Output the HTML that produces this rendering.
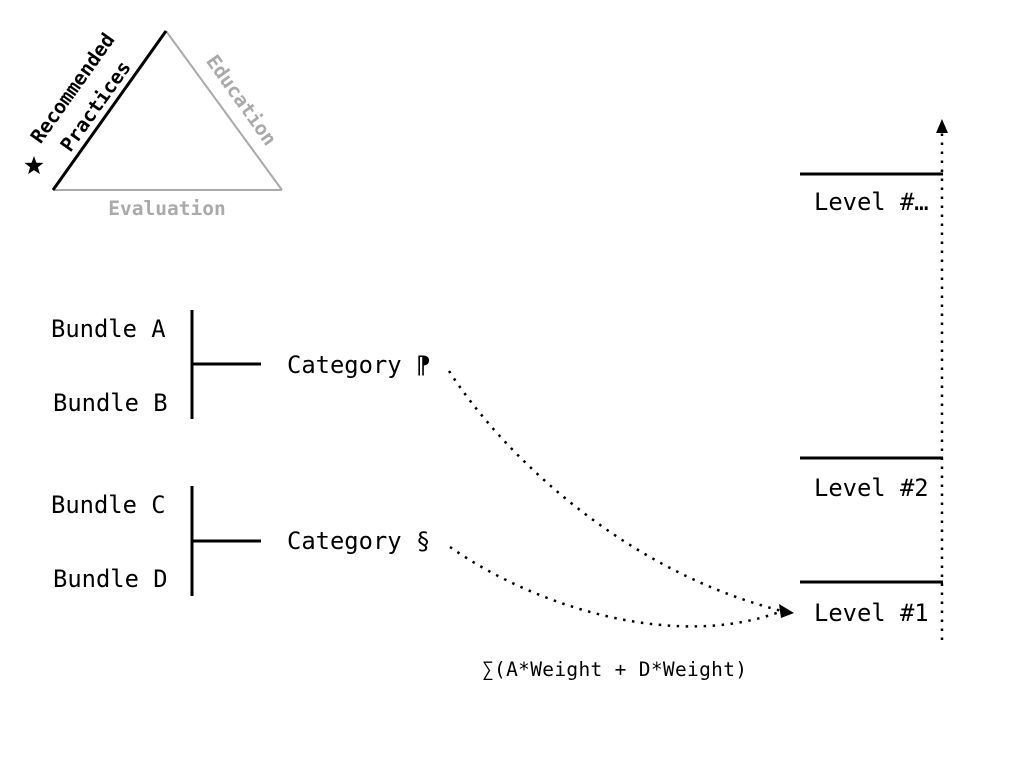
<!DOCTYPE html>
<html><head><meta charset="utf-8"><style>
html,body{margin:0;padding:0;background:#fff;}
svg{display:block;}
text{font-family:"DejaVu Sans Mono","Liberation Mono",monospace;}
</style></head><body>
<svg width="1024" height="768" viewBox="0 0 1024 768" xmlns="http://www.w3.org/2000/svg">
<line x1="166" y1="31" x2="282" y2="190" stroke="#aaa" stroke-width="2"/>
<line x1="53" y1="190" x2="282" y2="190" stroke="#aaa" stroke-width="2"/>
<line x1="53" y1="190" x2="166" y2="31" stroke="#000" stroke-width="3"/>
<text x="167" y="215" font-size="19.5" font-weight="bold" fill="#aaa" text-anchor="middle">Evaluation</text>
<text transform="translate(236,104) rotate(54.6)" font-size="19.5" font-weight="bold" fill="#aaa" text-anchor="middle">Education</text>
<text transform="translate(78,92) rotate(-54.6)" font-size="19.5" font-weight="bold" fill="#000" text-anchor="middle">Recommended</text>
<text transform="translate(101,110) rotate(-54.6)" font-size="19.5" font-weight="bold" fill="#000" text-anchor="middle">Practices</text>
<polygon points="34,156 36.4,162.7 43.5,162.9 37.9,167.3 39.9,174.1 34,170.1 28.1,174.1 30.1,167.3 24.5,162.9 31.6,162.7" fill="#000"/>
<g font-size="23.8" fill="#000">
<text x="51" y="337">Bundle A</text>
<text x="53" y="411">Bundle B</text>
<text x="51" y="513">Bundle C</text>
<text x="53" y="587">Bundle D</text>
<text x="287" y="373">Category ⁋</text>
<text x="287" y="549">Category §</text>
<text x="814" y="210">Level #…</text>
<text x="814" y="496">Level #2</text>
<text x="814" y="621">Level #1</text>
</g>
<g stroke="#000" stroke-width="3">
<line x1="192" y1="310" x2="192" y2="419"/>
<line x1="192" y1="364" x2="261" y2="364"/>
<line x1="192" y1="486" x2="192" y2="596"/>
<line x1="192" y1="541" x2="261" y2="541"/>
<line x1="800" y1="174" x2="943" y2="174"/>
<line x1="800" y1="458" x2="943" y2="458"/>
<line x1="800" y1="582" x2="943" y2="582"/>
</g>
<line x1="942" y1="640" x2="942" y2="132" stroke="#000" stroke-width="2.5" stroke-dasharray="2.5,6.5"/>
<polygon points="942,119 936,133 948,133" fill="#000"/>
<path d="M449,371 C500,450 620,570 782,611" fill="none" stroke="#000" stroke-width="2.5" stroke-dasharray="2.5,6.5"/>
<path d="M450,547 C540,610 680,650 782,611" fill="none" stroke="#000" stroke-width="2.5" stroke-dasharray="2.5,6.5"/>
<polygon points="794,613 779,604 781,618" fill="#000"/>
<text x="482" y="676" font-size="19.5" fill="#000" textLength="265" lengthAdjust="spacing">∑(A*Weight + D*Weight)</text>
</svg>
</body></html>
